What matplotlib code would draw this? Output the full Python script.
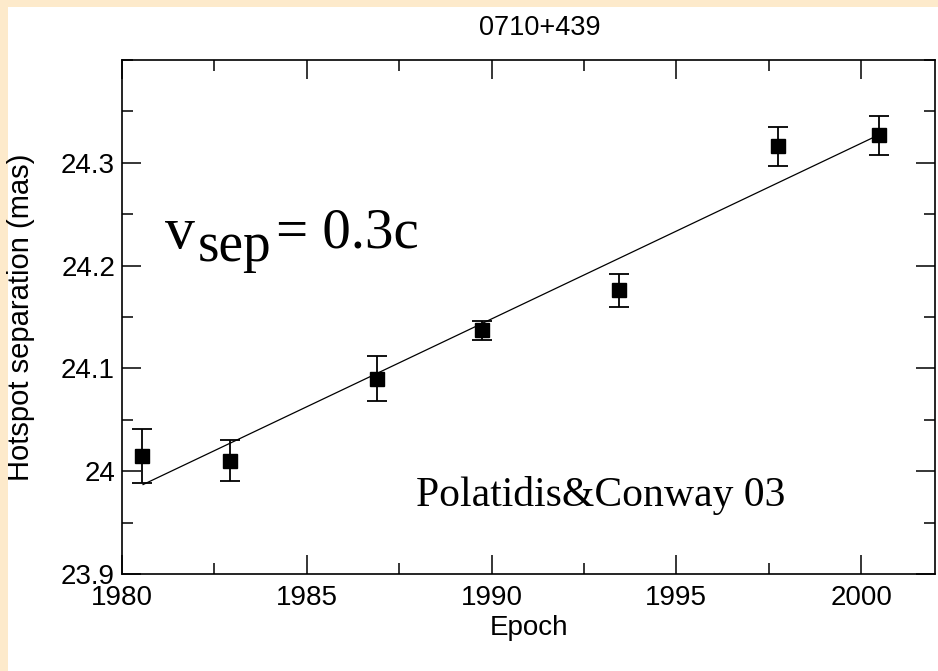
import matplotlib
matplotlib.use("Agg")
import matplotlib.pyplot as plt
from matplotlib.patches import Rectangle
from matplotlib.ticker import MultipleLocator

# hotspot separation measurements for 0710+439
epoch = [1980.55, 1982.91, 1986.90, 1989.74, 1993.46, 1997.74, 2000.49]
sep = [24.015, 24.010, 24.090, 24.137, 24.176, 24.316, 24.327]
sep_err = [0.026, 0.020, 0.022, 0.009, 0.016, 0.019, 0.019]

# linear fit, end points
fit_epoch = [1980.57, 2000.47]
fit_sep = [23.987, 24.327]

xticks = [1980, 1985, 1990, 1995, 2000]
yticks = [23.9, 24.0, 24.1, 24.2, 24.3]
ytick_labels = ["23.9", "24", "24.1", "24.2", "24.3"]

plt.rcParams["font.family"] = "Liberation Sans"

W, H = 938, 671
fig = plt.figure(figsize=(W / 100, H / 100), dpi=100, facecolor="#FDEACB")
# white page with a beige strip on the left and top
fig.patches.append(Rectangle((8 / W, 0), 1, 1 - 7 / H, transform=fig.transFigure,
                             facecolor="white", edgecolor="none", zorder=-1))

ax = fig.add_axes([122 / W, 1 - 574 / H, (935 - 122) / W, (574 - 60) / H])
ax.errorbar(epoch, sep, yerr=sep_err, fmt="s", color="black", ms=10,
            capsize=7.5, elinewidth=1.3, capthick=1.3)
ax.plot(fit_epoch, fit_sep, color="black", lw=0.9)

ax.set_xlim(1980, 2002)
ax.set_ylim(23.9, 24.4)
ax.set_xticks(xticks)
ax.set_xticklabels([str(x) for x in xticks])
ax.set_yticks(yticks)
ax.set_yticklabels(ytick_labels)
ax.xaxis.set_minor_locator(MultipleLocator(2.5))
ax.yaxis.set_minor_locator(MultipleLocator(0.05))
ax.tick_params(which="both", direction="in", top=True, right=True, width=1.1)
ax.tick_params(which="major", length=14, labelsize=20)
ax.tick_params(which="minor", length=8)
ax.tick_params(axis="x", pad=8)
ax.tick_params(axis="y", pad=5)
for s in ax.spines.values():
    s.set_linewidth(1.2)

ax.set_xlabel("Epoch", fontsize=20, labelpad=3)
ax.set_ylabel("Hotspot separation (mas)", fontsize=21, labelpad=19)
fig.text(540 / W, 1 - 28 / H, "0710+439", ha="center", va="center", fontsize=19.5)

# v_sep = 0.3c, built from pieces so the subscript can be sized freely
serif = "Liberation Serif"
def px(x, y):
    return ((x - 122) / 813, (574 - y) / 514)

ax.text(*px(165, 248), "v", transform=ax.transAxes, family=serif,
        fontsize=43, va="baseline")
ax.text(*px(198, 261), "sep", transform=ax.transAxes, family=serif,
        fontsize=40, va="baseline")
ax.text(*px(276, 248), "= 0.3c", transform=ax.transAxes, family=serif,
        fontsize=41, va="baseline")

ax.text(*px(416, 506), "Polatidis&Conway 03", transform=ax.transAxes,
        family=serif, fontsize=30, va="baseline")

fig.savefig("out.png", dpi=100, facecolor=fig.get_facecolor())
